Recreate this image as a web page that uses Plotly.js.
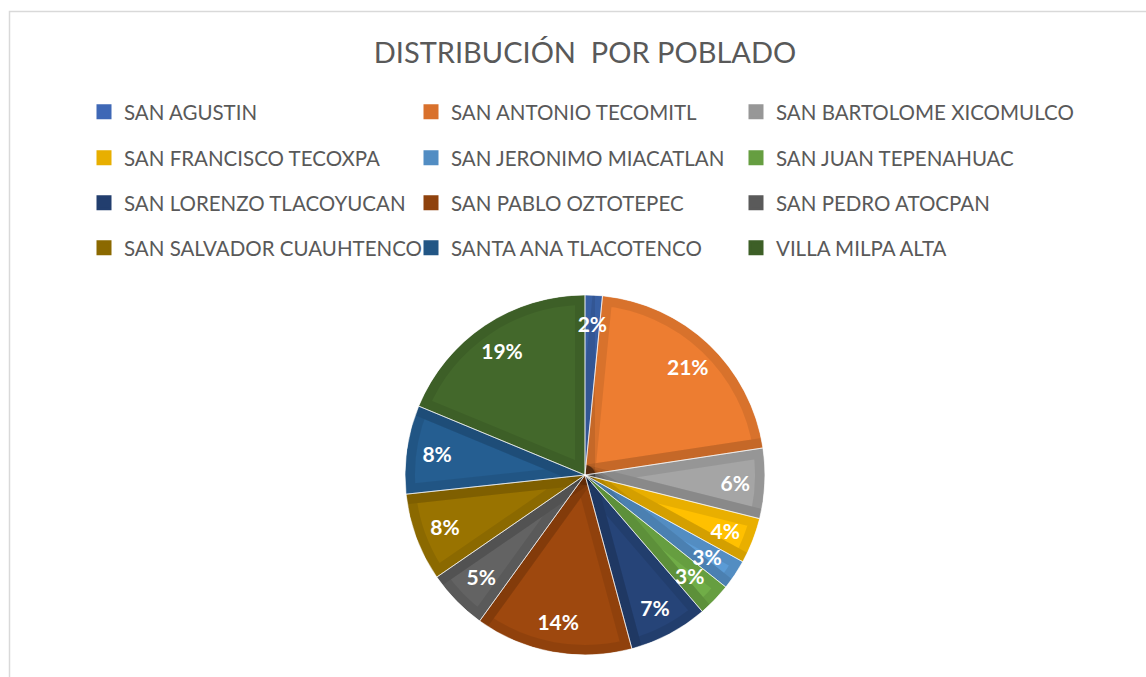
<!DOCTYPE html>
<html>
<head>
<meta charset="utf-8">
<script src="https://cdn.plot.ly/plotly-3.0.1.min.js"></script>
<style>
  html, body { margin: 0; padding: 0; background: #ffffff; }
  #chart { width: 1146px; height: 677px; }
</style>
</head>
<body>
<div id="chart"></div>
<script>
// ---- data (percent shares) ----
const categories = [
  "SAN AGUSTIN", "SAN ANTONIO TECOMITL", "SAN BARTOLOME XICOMULCO",
  "SAN FRANCISCO TECOXPA", "SAN JERONIMO MIACATLAN", "SAN JUAN TEPENAHUAC",
  "SAN LORENZO TLACOYUCAN", "SAN PABLO OZTOTEPEC", "SAN PEDRO ATOCPAN",
  "SAN SALVADOR CUAUHTENCO", "SANTA ANA TLACOTENCO", "VILLA MILPA ALTA"
];
const shares = [1.55, 21.05, 6.3, 4.1, 2.7, 3.0, 7.1, 14.15, 5.45, 7.9, 7.95, 18.75];
const fillColors = [
  "#4472C4", "#ED7D31", "#A5A5A5", "#FFC000", "#5B9BD5", "#70AD47",
  "#264478", "#9E480E", "#636363", "#997300", "#255E91", "#43682B"
];
const legendColors = [
  "#3F68B6", "#D9712C", "#979797", "#E8AF00", "#528DC3", "#669E41",
  "#223E6E", "#8F420D", "#5A5A5A", "#8B6900", "#225685", "#3D5F27"
];
const chartTitle = "DISTRIBUCIÓN&nbsp;&nbsp;POR POBLADO";

// ---- geometry / style ----
const W = 1146, H = 677;
const cx = 585, cy = 475, R = 180;
const FONT = "Lato, 'Open Sans', sans-serif";
function dom(r) {
  return {
    x: [(cx - r) / W, (cx + r) / W],
    y: [(H - cy - r) / H, (H - cy + r) / H]
  };
}

const traces = [];
// one legend per entry (3 columns x 4 rows), fed by tiny pies hidden under the main pie
const legendKeys = categories.map((c, i) => i === 0 ? "legend" : "legend" + (i + 1));
categories.forEach((c, i) => {
  traces.push({
    type: "pie",
    labels: [c],
    values: [1],
    marker: { colors: [legendColors[i]], line: { color: [legendColors[i]], width: 3 } },
    sort: false,
    textinfo: "none",
    hoverinfo: "skip",
    domain: dom(0.5),
    legend: legendKeys[i],
    showlegend: true
  });
});
// main pie (fills + darker inset border)
traces.push({
  type: "pie",
  labels: categories,
  values: shares,
  sort: false,
  direction: "clockwise",
  rotation: 0,
  marker: { colors: fillColors, line: { color: "rgba(0,0,0,0.085)", width: 20 } },
  textinfo: "none",
  domain: dom(R),
  showlegend: false,
  hoverinfo: "label+percent"
});
// thin separators
traces.push({
  type: "pie",
  labels: categories,
  values: shares,
  sort: false,
  direction: "clockwise",
  rotation: 0,
  marker: { colors: categories.map(() => "rgba(0,0,0,0)"), line: { color: "rgba(255,255,255,0.55)", width: 1 } },
  textinfo: "none",
  hoverinfo: "skip",
  domain: dom(R),
  showlegend: false
});
// white ring trimming the outer half of the thick border
traces.push({
  type: "pie",
  labels: ["ring"],
  values: [1],
  hole: R / (R + 20),
  marker: { colors: ["#ffffff"], line: { width: 0 } },
  textinfo: "none",
  hoverinfo: "skip",
  domain: dom(R + 20),
  showlegend: false,
  sort: false
});
// percent labels: three transparent label layers so every label sits near 0.83 R
const labelGroups = [
  { r: R, hole: 0.66, members: [1, 2, 6, 7, 9, 10, 11] },
  { r: 170, hole: 0, members: [3, 8] },
  { r: 159, hole: 0, members: [0, 4, 5] }
];
labelGroups.forEach(g => {
  traces.push({
    type: "pie",
    labels: categories,
    values: shares,
    sort: false,
    direction: "clockwise",
    rotation: 0,
    hole: g.hole,
    marker: { colors: categories.map(() => "rgba(0,0,0,0)"), line: { width: 0 } },
    texttemplate: categories.map((c, i) => g.members.includes(i) ? "%{percent:.0%}" : ""),
    textposition: "inside",
    insidetextorientation: "horizontal",
    textfont: { family: FONT, size: 21, color: "#ffffff", weight: "bold" },
    hoverinfo: "skip",
    domain: dom(g.r),
    showlegend: false
  });
});

const legendFont = { family: FONT, size: 20.5, color: "#595959" };
const rowY = [112, 158, 203, 248];
const colX = [84, 411, 736];
const layout = {
  width: W, height: H,
  margin: { l: 0, r: 0, t: 0, b: 0 },
  paper_bgcolor: "#ffffff",
  title: {
    text: chartTitle,
    x: cx / W, xanchor: "center",
    y: 1 - 53 / H, yanchor: "middle",
    font: { family: FONT, size: 29, color: "#595959" }
  },
  uniformtext: { mode: "show", minsize: 21 },
  shapes: [{
    type: "rect", xref: "paper", yref: "paper",
    x0: 9.5 / W, x1: 1.1, y0: -0.1, y1: 1 - 11.5 / H,
    line: { color: "#D9D9D9", width: 1.5 }, fillcolor: "rgba(0,0,0,0)"
  }]
};
legendKeys.forEach((key, i) => {
  layout[key] = {
    orientation: "h",
    x: colX[i % 3] / W, xanchor: "left",
    y: 1 - rowY[Math.floor(i / 3)] / H, yanchor: "middle",
    font: legendFont,
    bgcolor: "rgba(0,0,0,0)"
  };
});

Plotly.newPlot("chart", traces, layout, { displayModeBar: false, staticPlot: true });
</script>
</body>
</html>
